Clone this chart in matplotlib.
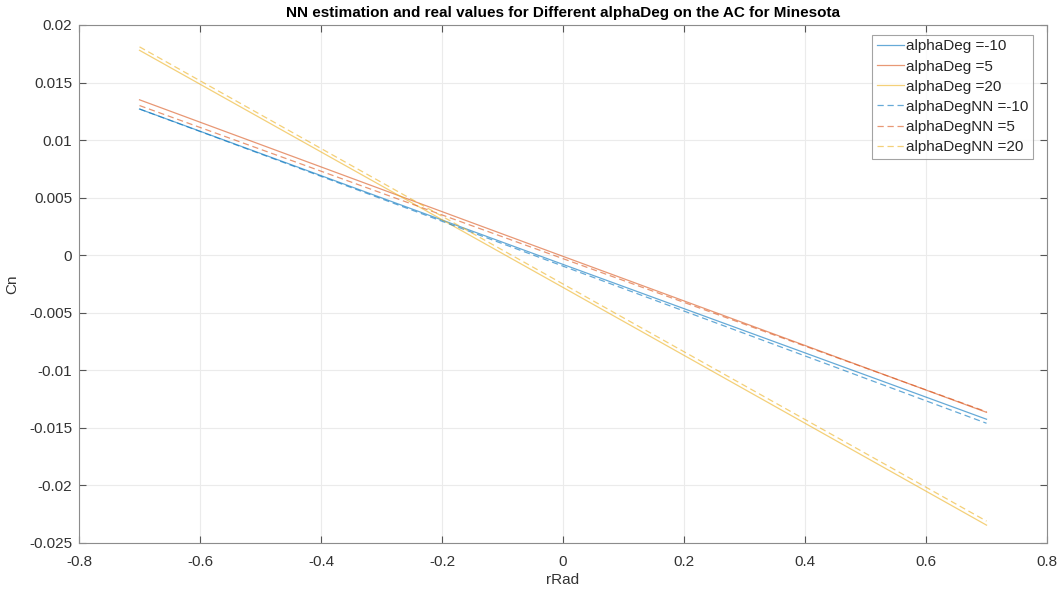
import matplotlib
matplotlib.use("Agg")
import matplotlib.pyplot as plt
from matplotlib.ticker import FuncFormatter

plt.rcParams['font.family'] = ['Liberation Sans', 'DejaVu Sans']

# valeurs
r_rad = [-0.7, 0.0, 0.7]
cn_m10 = [0.0127, -0.0008, -0.01425]
cn_5 = [0.0135, -0.0001, -0.01365]
cn_20 = [0.0178, -0.0028, -0.02345]
cn_nn_m10 = [0.0127, -0.00095, -0.0146]
cn_nn_5 = [0.0130, -0.0003, -0.0136]
cn_nn_20 = [0.0181, -0.0025, -0.0231]

c_blue = "#0072BD"
c_red = "#D95319"
c_yel = "#EDB120"

fig = plt.figure(figsize=(10.62, 5.92), dpi=100)
ax = fig.add_axes([0.0744, 0.0828, 0.9115, 0.875])

lw = 0.9
al = 0.6
dash = (0, (5, 3))
ax.plot(r_rad, cn_m10, color=c_blue, lw=lw, alpha=al, label="alphaDeg =-10")
ax.plot(r_rad, cn_5, color=c_red, lw=lw, alpha=al, label="alphaDeg =5")
ax.plot(r_rad, cn_20, color=c_yel, lw=lw, alpha=al, label="alphaDeg =20")
ax.plot(r_rad, cn_nn_m10, color=c_blue, lw=lw, alpha=al, ls=dash, label="alphaDegNN =-10")
ax.plot(r_rad, cn_nn_5, color=c_red, lw=lw, alpha=al, ls=dash, label="alphaDegNN =5")
ax.plot(r_rad, cn_nn_20, color=c_yel, lw=lw, alpha=al, ls=dash, label="alphaDegNN =20")

ax.set_xlim(-0.8, 0.8)
ax.set_ylim(-0.025, 0.02)
ax.set_xticks([-0.8, -0.6, -0.4, -0.2, 0, 0.2, 0.4, 0.6, 0.8])
ax.set_yticks([-0.025, -0.02, -0.015, -0.01, -0.005, 0, 0.005, 0.01, 0.015, 0.02])
fmt = FuncFormatter(lambda v, p: "0" if abs(v) < 1e-12 else "%g" % v)
ax.xaxis.set_major_formatter(fmt)
ax.yaxis.set_major_formatter(fmt)

ax.grid(True, color="#ebebeb", lw=0.8)
ax.set_axisbelow(True)
ax.tick_params(direction="in", top=True, right=True, labelsize=11, labelcolor="#333333",
               color="#555555", length=5, width=0.8)
ax.tick_params(axis="x", pad=8.5)
ax.tick_params(axis="y", pad=5)
for s in ax.spines.values():
    s.set_color("#8c8c8c")
    s.set_linewidth(0.8)

ax.set_xlabel("rRad", fontsize=11, color="#333333", labelpad=3)
ax.set_ylabel("Cn", fontsize=11, color="#333333", labelpad=7)
ax.set_title("NN estimation and real values for Different alphaDeg on the AC for Minesota",
             fontsize=11, fontweight="bold", color="black", pad=6)

leg = ax.legend(loc="upper right", bbox_to_anchor=(0.9855, 0.981), fontsize=11, frameon=True,
                fancybox=False, handlelength=1.75, handletextpad=0.15, labelspacing=0.4,
                borderpad=0.3, borderaxespad=0)
leg.get_frame().set_edgecolor("#8c8c8c")
leg.get_frame().set_linewidth(0.8)
for t in leg.get_texts():
    t.set_color("#262626")

plt.savefig("out.png", dpi=100)
plt.close()
